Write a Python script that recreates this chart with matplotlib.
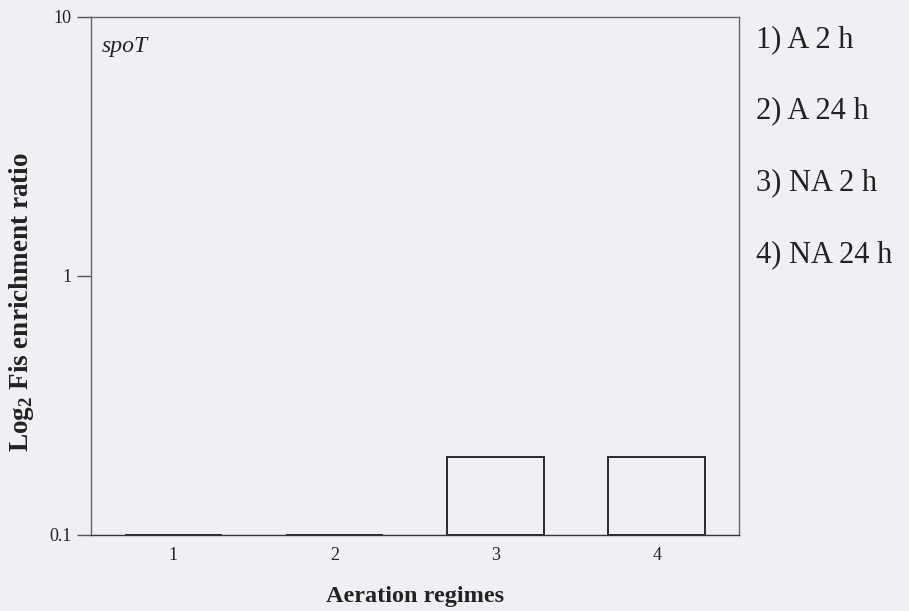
import matplotlib
matplotlib.use("Agg")
import matplotlib.pyplot as plt
from matplotlib.ticker import FixedLocator, FixedFormatter, NullLocator

# Aeration regimes and Fis enrichment ratios for spoT
regimes = [1, 2, 3, 4]
ratios = [0.1, 0.1, 0.2, 0.2]
y_ticks = [0.1, 1, 10]
y_tick_labels = ["0.1", "1", "10"]
regime_labels = ["1) A 2 h", "2) A 24 h", "3) NA 2 h", "4) NA 24 h"]

plt.rcParams["font.family"] = ["Liberation Serif", "DejaVu Serif"]
plt.rcParams["mathtext.fontset"] = "custom"
plt.rcParams["mathtext.rm"] = "Liberation Serif"
plt.rcParams["mathtext.bf"] = "Liberation Serif:bold"
bg = "#eff0f3"
ink = "#222222"

fig = plt.figure(figsize=(9.09, 6.11), dpi=100, facecolor=bg)
ax = fig.add_axes([0.1001, 0.1244, 0.7129, 0.8478])
ax.set_facecolor(bg)

ax.bar(regimes, [r - 0.1 for r in ratios], bottom=0.1, width=0.6,
       facecolor=bg, edgecolor="#2a2a2a", linewidth=1.4, zorder=3)

ax.set_yscale("log")
ax.set_ylim(0.1, 10)
ax.set_xlim(0.49, 4.51)
ax.yaxis.set_major_locator(FixedLocator(y_ticks))
ax.yaxis.set_major_formatter(FixedFormatter(y_tick_labels))
ax.yaxis.set_minor_locator(NullLocator())
ax.set_xticks(regimes)
ax.set_xticklabels([str(r) for r in regimes])
ax.tick_params(axis="y", length=10, width=1, color="#555555", labelsize=13,
               pad=4, labelcolor=ink)
ax.tick_params(axis="x", length=0, labelsize=13, pad=9, labelcolor=ink)

for side, sp in ax.spines.items():
    sp.set_color("#666666")
    sp.set_linewidth(1.0)
ax.spines["bottom"].set_color("#333333")

ax.set_xlabel("Aeration regimes", fontsize=17.5, fontweight="bold", color=ink, va="baseline")
ax.xaxis.set_label_coords(0.5, (535 - 602) / 518)
ax.set_ylabel(r"Log$_\mathbf{2}$ Fis enrichment ratio", fontsize=19.5,
              fontweight="bold", color=ink, va="center")
ax.yaxis.set_label_coords((22 - 91) / 648, (535 - 302) / 518)

ax.text(11 / 648, (535 - 52) / 518, "spoT", transform=ax.transAxes, fontsize=17,
        style="italic", ha="left", va="baseline", color=ink)

for i, lab in enumerate(regime_labels):
    fig.text(756 / 909, 1 - (47 + i * 71.7) / 611, lab, fontsize=22,
             ha="left", va="baseline", color=ink)

fig.savefig("out.png", dpi=100, facecolor=bg)
